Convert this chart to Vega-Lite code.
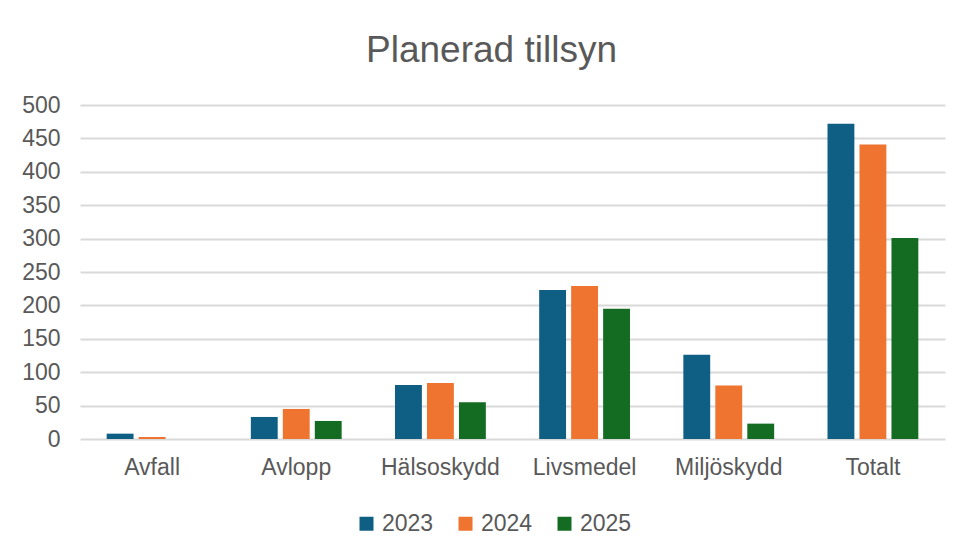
{
  "$schema": "https://vega.github.io/schema/vega-lite/v6.json",
  "autosize": "none",
  "width": 865,
  "height": 334,
  "padding": {"left": 80, "top": 105, "right": 15, "bottom": 112},
  "background": "white",
  "title": {
    "text": "Planerad tillsyn",
    "font": "Liberation Sans",
    "fontSize": 37,
    "fontWeight": "normal",
    "color": "#595959",
    "anchor": "middle",
    "frame": "group",
    "dx": -21,
    "offset": 24
  },
  "data": {
    "values": [
      {"kategori": "Avfall", "år": "2023", "antal": 8},
      {"kategori": "Avfall", "år": "2024", "antal": 3},
      {"kategori": "Avfall", "år": "2025", "antal": 0},
      {"kategori": "Avlopp", "år": "2023", "antal": 33},
      {"kategori": "Avlopp", "år": "2024", "antal": 45},
      {"kategori": "Avlopp", "år": "2025", "antal": 27},
      {"kategori": "Hälsoskydd", "år": "2023", "antal": 81},
      {"kategori": "Hälsoskydd", "år": "2024", "antal": 84},
      {"kategori": "Hälsoskydd", "år": "2025", "antal": 55},
      {"kategori": "Livsmedel", "år": "2023", "antal": 223},
      {"kategori": "Livsmedel", "år": "2024", "antal": 229},
      {"kategori": "Livsmedel", "år": "2025", "antal": 195},
      {"kategori": "Miljöskydd", "år": "2023", "antal": 126},
      {"kategori": "Miljöskydd", "år": "2024", "antal": 80},
      {"kategori": "Miljöskydd", "år": "2025", "antal": 23},
      {"kategori": "Totalt", "år": "2023", "antal": 472},
      {"kategori": "Totalt", "år": "2024", "antal": 441},
      {"kategori": "Totalt", "år": "2025", "antal": 301}
    ]
  },
  "mark": {"type": "bar"},
  "encoding": {
    "x": {
      "field": "kategori",
      "type": "nominal",
      "sort": null,
      "scale": {"paddingInner": 0.37, "paddingOuter": 0.185},
      "axis": {
        "title": null,
        "labelAngle": 0,
        "labelFont": "Liberation Sans",
        "labelFontSize": 23,
        "labelColor": "#595959",
        "labelPadding": 17,
        "ticks": false,
        "domain": false,
        "grid": false
      }
    },
    "xOffset": {
      "field": "år",
      "type": "nominal",
      "scale": {"paddingInner": 0.16, "paddingOuter": 0}
    },
    "y": {
      "field": "antal",
      "type": "quantitative",
      "scale": {"domain": [0, 500], "nice": false},
      "axis": {
        "title": null,
        "values": [0, 50, 100, 150, 200, 250, 300, 350, 400, 450, 500],
        "labelFont": "Liberation Sans",
        "labelFontSize": 23,
        "labelColor": "#595959",
        "labelPadding": 20,
        "ticks": false,
        "domain": false,
        "grid": true,
        "gridColor": "#d9d9d9",
        "gridWidth": 1.8
      }
    },
    "color": {
      "field": "år",
      "type": "nominal",
      "scale": {"domain": ["2023", "2024", "2025"], "range": ["#0F5F85", "#EE7430", "#146C22"]},
      "legend": {
        "title": null,
        "orient": "none",
        "direction": "horizontal",
        "legendX": 275,
        "legendY": 407,
        "padding": 0,
        "symbolType": "square",
        "symbolSize": 196,
        "symbolStrokeWidth": 0,
        "labelFont": "Liberation Sans",
        "labelFontSize": 23,
        "labelColor": "#595959",
        "labelOffset": 4,
        "columnPadding": 20
      }
    }
  },
  "config": {
    "view": {"stroke": null}
  }
}
